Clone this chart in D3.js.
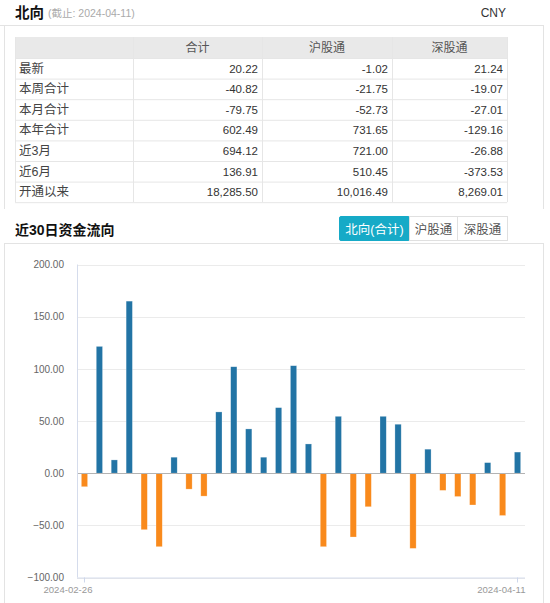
<!DOCTYPE html>
<html>
<head>
<meta charset="utf-8">
<script src="https://cdn.jsdelivr.net/npm/d3@7/dist/d3.min.js"></script>
<style>
html,body{margin:0;padding:0;background:#fff;}
svg{display:block;}
text{font-family:"Liberation Sans","Noto Sans CJK SC",sans-serif;}
</style>
</head>
<body>
<svg id="chart" width="550" height="603"></svg>
<script>
// ---------- data ----------
const titleMain = "北向";
const titleDate = "(截止: 2024-04-11)";
const currency = "CNY";
const colHeaders = ["", "合计", "沪股通", "深股通"];
const rowLabels = ["最新", "本周合计", "本月合计", "本年合计", "近3月", "近6月", "开通以来"];
const totalValues = ["20.22", "-40.82", "-79.75", "602.49", "694.12", "136.91", "18,285.50"];
const shValues = ["-1.02", "-21.75", "-52.73", "731.65", "721.00", "510.45", "10,016.49"];
const szValues = ["21.24", "-19.07", "-27.01", "-129.16", "-26.88", "-373.53", "8,269.01"];

const sectionTitle = "近30日资金流向";
const tabs = ["北向(合计)", "沪股通", "深股通"];

const dates = ["2024-02-26","2024-02-27","2024-02-28","2024-02-29","2024-03-01",
  "2024-03-04","2024-03-05","2024-03-06","2024-03-07","2024-03-08",
  "2024-03-11","2024-03-12","2024-03-13","2024-03-14","2024-03-15",
  "2024-03-18","2024-03-19","2024-03-20","2024-03-21","2024-03-22",
  "2024-03-25","2024-03-26","2024-03-27","2024-03-28","2024-04-02",
  "2024-04-03","2024-04-08","2024-04-09","2024-04-10","2024-04-11"];
const flows = [-13.0, 121.5, 12.7, 164.9, -54.2, -70.5, 15.3, -15.3, -22.0, 58.7,
  102.0, 42.4, 15.3, 62.8, 103.0, 28.0, -70.5, 54.5, -61.2, -32.2,
  54.5, 46.9, -72.1, 23.0, -16.5, -22.4, -30.5, 10.1, -40.6, 20.22];
const yTicks = [-100, -50, 0, 50, 100, 150, 200];
const xTickLabels = ["2024-02-26", "2024-04-11"];

// ---------- drawing ----------
const svg = d3.select("#chart");
const borderC = "#e3e3e3";

// header
svg.append("text").attr("x", 15).attr("y", 18).attr("font-size", 14.5).attr("font-weight", "bold")
  .attr("fill", "#111").attr("font-family", "Noto Sans CJK SC").text(titleMain);
svg.append("text").attr("x", 48).attr("y", 17).attr("font-size", 10.5).attr("fill", "#aaa").text(titleDate);
svg.append("text").attr("x", 506).attr("y", 17).attr("font-size", 12).attr("fill", "#333")
  .attr("text-anchor", "end").text(currency);

// panel 1 borders
svg.append("line").attr("x1", 0).attr("x2", 544).attr("y1", 25.5).attr("y2", 25.5).attr("stroke", borderC);
svg.append("line").attr("x1", 4.5).attr("x2", 4.5).attr("y1", 25.5).attr("y2", 209).attr("stroke", borderC);
svg.append("line").attr("x1", 543.5).attr("x2", 543.5).attr("y1", 25.5).attr("y2", 209).attr("stroke", borderC);

// table
const colX = [15, 133, 262, 392, 507];
const headTop = 37, headH = 21, rowH = 20.6;
const tbl = svg.append("g");
tbl.append("rect").attr("x", colX[0]).attr("y", headTop).attr("width", colX[4] - colX[0]).attr("height", headH)
  .attr("fill", "#e9e9e9");
const rowsY = rowLabels.map((d, i) => headTop + headH + i * rowH);
const tableBottom = headTop + headH + rowLabels.length * rowH;
rowsY.concat([tableBottom]).forEach(y => {
  tbl.append("line").attr("x1", colX[0]).attr("x2", colX[4]).attr("y1", y + 0.5).attr("y2", y + 0.5)
    .attr("stroke", "#e6e6e6");
});
colX.forEach(x => {
  tbl.append("line").attr("x1", x + 0.5).attr("x2", x + 0.5).attr("y1", headTop).attr("y2", tableBottom)
    .attr("stroke", "#e6e6e6");
});
colHeaders.forEach((h, i) => {
  tbl.append("text").attr("x", (colX[i] + colX[i + 1]) / 2).attr("y", headTop + 15)
    .attr("text-anchor", "middle").attr("font-size", 12).attr("fill", "#555").text(h);
});
const cols = [totalValues, shValues, szValues];
rowLabels.forEach((lab, r) => {
  const y = rowsY[r] + 14.5;
  tbl.append("text").attr("x", colX[0] + 4).attr("y", y).attr("font-size", 12.5).attr("fill", "#444").text(lab);
  cols.forEach((arr, c) => {
    tbl.append("text").attr("x", colX[c + 2] - 4).attr("y", y).attr("text-anchor", "end")
      .attr("font-size", 11.5).attr("fill", "#333").text(arr[r]);
  });
});

// section 2 title & tabs
svg.append("text").attr("x", 15).attr("y", 235).attr("font-size", 14).attr("font-weight", "bold")
  .attr("fill", "#111").attr("font-family", "Noto Sans CJK SC").text(sectionTitle);
const tabX = [339, 409, 457, 507];
tabs.forEach((t, i) => {
  svg.append("rect").attr("x", tabX[i] + 0.5).attr("y", 216.5).attr("width", tabX[i + 1] - tabX[i])
    .attr("height", 24).attr("rx", i === 0 ? 1.5 : 0)
    .attr("fill", i === 0 ? "#16aac7" : "#fff").attr("stroke", i === 0 ? "#16aac7" : "#e0e0e0");
  svg.append("text").attr("x", (tabX[i] + tabX[i + 1]) / 2 + 0.5).attr("y", 233.5).attr("text-anchor", "middle")
    .attr("font-size", 12.5).attr("fill", i === 0 ? "#fff" : "#555").text(t);
});
svg.append("line").attr("x1", 4).attr("x2", 544).attr("y1", 243.5).attr("y2", 243.5).attr("stroke", borderC);
svg.append("line").attr("x1", 4.5).attr("x2", 4.5).attr("y1", 243.5).attr("y2", 603).attr("stroke", borderC);
svg.append("line").attr("x1", 543.5).attr("x2", 543.5).attr("y1", 243.5).attr("y2", 603).attr("stroke", borderC);

// chart
const plotL = 77, plotR = 525, plotT = 264.5, plotB = 577.5;
const x = d3.scaleBand().domain(dates).range([plotL, plotR]).paddingInner(0.58).paddingOuter(0.29);
const y = d3.scaleLinear().domain([-100, 200]).range([plotB, plotT]);

const g = svg.append("g");
g.selectAll("line.grid").data(yTicks).join("line").attr("class", "grid")
  .attr("x1", plotL).attr("x2", plotR).attr("y1", d => Math.round(y(d)) + 0.5).attr("y2", d => Math.round(y(d)) + 0.5)
  .attr("stroke", "#ebebeb");
const yAxis = d3.axisLeft(y).tickValues(yTicks).tickFormat(d3.format(".2f")).tickSize(0).tickPadding(13);
const ya = g.append("g").attr("transform", `translate(${plotL},0)`).call(yAxis);
ya.select(".domain").remove();
ya.selectAll("text").attr("font-family", "DejaVu Sans").attr("font-size", 10).attr("fill", "#666")
  .text(d => d < 0 ? "−" + d3.format(".2f")(-d) : d3.format(".2f")(d));

g.selectAll("rect.bar").data(flows).join("rect").attr("class", "bar")
  .attr("x", (d, i) => x(dates[i]))
  .attr("width", x.bandwidth())
  .attr("y", d => d >= 0 ? y(d) : y(0))
  .attr("height", d => Math.abs(y(d) - y(0)))
  .attr("fill", d => d >= 0 ? "#2274a5" : "#f98a1c")
  .attr("stroke", "rgba(255,255,255,0.45)").attr("stroke-width", 0.6);

g.append("line").attr("x1", plotL).attr("x2", plotR).attr("y1", Math.round(y(0)) + 0.5).attr("y2", Math.round(y(0)) + 0.5)
  .attr("stroke", "#b3b3b3");
g.append("line").attr("x1", plotL + 0.5).attr("x2", plotL + 0.5).attr("y1", plotT).attr("y2", plotB)
  .attr("stroke", "#d5dcec");
g.append("line").attr("x1", plotL).attr("x2", plotR).attr("y1", plotB + 0.5).attr("y2", plotB + 0.5)
  .attr("stroke", "#d5dcec");

const xAxis = d3.axisBottom(x).tickValues(xTickLabels).tickSize(5).tickPadding(4);
const xa = g.append("g").attr("transform", `translate(0,${plotB})`).call(xAxis);
xa.select(".domain").remove();
xa.selectAll(".tick line").attr("stroke", "#ccd6eb");
xa.selectAll("text").attr("font-family", "Liberation Mono").attr("font-size", 9.6).attr("fill", "#999")
  .attr("text-anchor", "end").attr("dx", "8");
</script>
</body>
</html>
